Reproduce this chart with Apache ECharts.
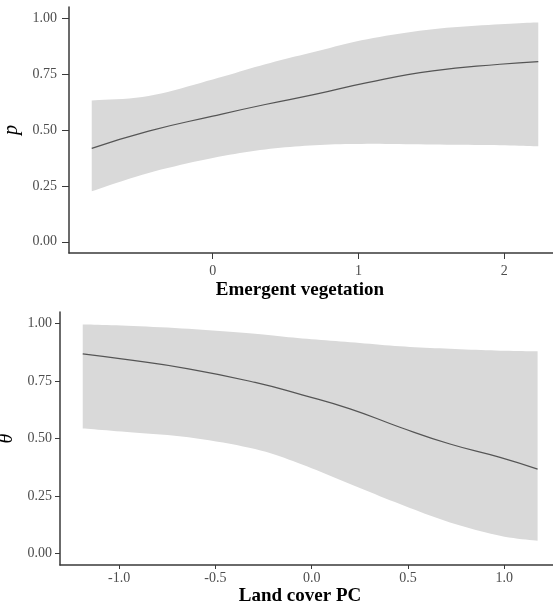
<!DOCTYPE html>
<html>
<head>
<meta charset="utf-8">
<script src="https://cdn.jsdelivr.net/npm/echarts@6/dist/echarts.min.js"></script>
<style>
  html, body { margin: 0; padding: 0; background: #fff; }
  #chart { width: 553px; height: 606px; }
</style>
</head>
<body>
<div id="chart"></div>
<script>
// top panel: p vs emergent vegetation
const vegX = [-0.83, -0.44, 0.0, 0.36, 0.70, 1.06, 1.51, 1.97, 2.233];
const vegFit = [0.418, 0.495, 0.562, 0.614, 0.659, 0.712, 0.764, 0.794, 0.806];
const vegLow = [0.226, 0.308, 0.375, 0.413, 0.432, 0.438, 0.435, 0.432, 0.427];
const vegHigh = [0.632, 0.652, 0.726, 0.794, 0.850, 0.906, 0.951, 0.973, 0.981];

// bottom panel: theta vs land cover PC
const lcX = [-1.189, -0.987, -0.64, -0.294, -0.05, 0.199, 0.458, 0.718, 0.978, 1.173];
const lcFit = [0.868, 0.846, 0.803, 0.744, 0.690, 0.629, 0.549, 0.476, 0.418, 0.367];
const lcLow = [0.544, 0.530, 0.505, 0.454, 0.387, 0.302, 0.215, 0.135, 0.077, 0.055];
const lcHigh = [0.996, 0.991, 0.977, 0.955, 0.935, 0.919, 0.901, 0.890, 0.882, 0.879];

const yTicks = [0, 0.25, 0.5, 0.75, 1];
const vegTicks = [0, 1, 2];
const lcTicks = [-1, -0.5, 0, 0.5, 1];

const serif = "'Liberation Serif', 'Times New Roman', serif";
const axisColor = "#3a3a3a";
const labelColor = "#4d4d4d";
const bandColor = "#d9d9d9";
const lineColor = "#555";

const pairs = (xs, ys) => xs.map((x, i) => [x, ys[i]]);

// catmull-rom through the projected points, so the ribbon edges look smooth
function spline(pts, steps) {
  const out = [pts[0]];
  for (let i = 0; i < pts.length - 1; i++) {
    const p0 = pts[i - 1] || pts[i], p1 = pts[i], p2 = pts[i + 1], p3 = pts[i + 2] || pts[i + 1];
    for (let s = 1; s <= steps; s++) {
      const t = s / steps, t2 = t * t, t3 = t2 * t;
      const f = (a, b, c, d) =>
        0.5 * (2 * b + (-a + c) * t + (2 * a - 5 * b + 4 * c - d) * t2 + (-a + 3 * b - 3 * c + d) * t3);
      out.push([f(p0[0], p1[0], p2[0], p3[0]), f(p0[1], p1[1], p2[1], p3[1])]);
    }
  }
  return out;
}

function yAxisOpt(gridIndex, name, tickLen, gap, margin) {
  return {
    gridIndex,
    type: "value",
    min: -0.05,
    max: 1.05,
    name,
    nameLocation: "middle",
    nameGap: gap,
    nameTextStyle: { fontFamily: serif, fontStyle: "italic", fontSize: 20, color: "#000" },
    splitLine: { show: false },
    axisLine: { show: true, onZero: false, lineStyle: { color: axisColor, width: 1.5 } },
    axisTick: { show: true, length: tickLen, customValues: yTicks, lineStyle: { color: axisColor } },
    axisLabel: {
      customValues: yTicks,
      margin,
      fontFamily: serif,
      fontSize: 14,
      color: labelColor,
      formatter: (v) => v.toFixed(2),
    },
  };
}

function xAxisOpt(gridIndex, min, max, ticks, tickLen, margin, digits) {
  return {
    gridIndex,
    type: "value",
    min,
    max,
    splitLine: { show: false },
    axisLine: { show: true, onZero: false, lineStyle: { color: axisColor, width: 1.5 } },
    axisTick: { show: true, length: tickLen, customValues: ticks, lineStyle: { color: axisColor } },
    axisLabel: {
      customValues: ticks,
      margin,
      fontFamily: serif,
      fontSize: 14,
      color: labelColor,
      formatter: (v) => v.toFixed(digits),
    },
  };
}

// confidence ribbon drawn as one polygon through the axis scales
function bandSeries(idx, xs, fit, lo, hi) {
  return [
    {
      type: "custom",
      xAxisIndex: idx,
      yAxisIndex: idx,
      data: xs.map((x, i) => [x, lo[i], hi[i]]),
      encode: { x: 0, y: [1, 2] },
      silent: true,
      z: 1,
      renderItem: (params, api) => {
        if (params.dataIndex !== 0) return null;
        const upper = spline(xs.map((x, i) => api.coord([x, hi[i]])), 10);
        const lower = spline(xs.map((x, i) => api.coord([x, lo[i]])), 10).reverse();
        return {
          type: "polygon",
          shape: { points: upper.concat(lower) },
          style: { fill: bandColor, stroke: null },
        };
      },
    },
    {
      type: "line",
      xAxisIndex: idx,
      yAxisIndex: idx,
      data: pairs(xs, fit),
      smooth: true,
      symbol: "none",
      lineStyle: { color: lineColor, width: 1.2 },
      z: 3,
    },
  ];
}

const chart = echarts.init(document.getElementById("chart"), null, { renderer: "canvas" });

chart.setOption({
  animation: false,
  backgroundColor: "#fff",
  grid: [
    { left: 69, top: 7, width: 484, height: 246, outerBoundsMode: "none" },
    { left: 60, top: 312, width: 493, height: 253, outerBoundsMode: "none" },
  ],
  xAxis: [
    xAxisOpt(0, -0.986, 2.334, vegTicks, 6, 11, 0),
    xAxisOpt(1, -1.307, 1.253, lcTicks, 4, 6, 1),
  ],
  yAxis: [yAxisOpt(0, "p", 7, 43, 12), yAxisOpt(1, "\u03b8", 5, 34, 8)],
  series: [
    ...bandSeries(0, vegX, vegFit, vegLow, vegHigh),
    ...bandSeries(1, lcX, lcFit, lcLow, lcHigh),
  ],
  graphic: [
    {
      type: "text",
      x: 300,
      y: 290,
      style: {
        text: "Emergent vegetation",
        fontFamily: serif,
        fontWeight: "bold",
        fontSize: 19,
        fill: "#000",
        align: "center",
        verticalAlign: "middle",
      },
    },
    {
      type: "text",
      x: 300,
      y: 596,
      style: {
        text: "Land cover PC",
        fontFamily: serif,
        fontWeight: "bold",
        fontSize: 19,
        fill: "#000",
        align: "center",
        verticalAlign: "middle",
      },
    },
  ],
});
</script>
</body>
</html>
